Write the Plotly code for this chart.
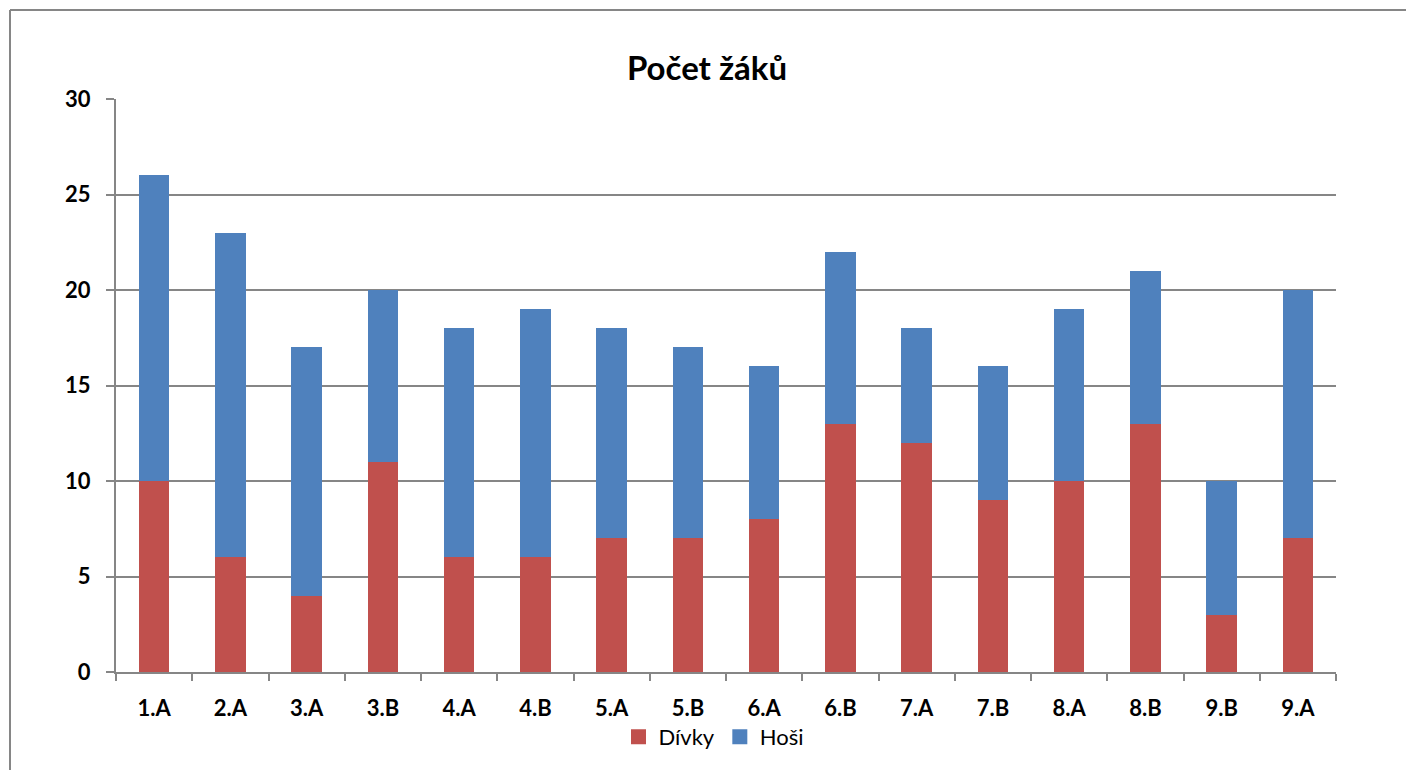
import plotly.graph_objects as go

categories = ["1.A", "2.A", "3.A", "3.B", "4.A", "4.B", "5.A", "5.B", "6.A", "6.B", "7.A", "7.B", "8.A", "8.B", "9.B", "9.A"]
divky = [10, 6, 4, 11, 6, 6, 7, 7, 8, 13, 12, 9, 10, 13, 3, 7]
hosi = [16, 17, 13, 9, 12, 13, 11, 10, 8, 9, 6, 7, 9, 8, 7, 13]

FONT = "Lato, 'Open Sans', sans-serif"
GRAY = "#868686"
RED = "#C0504D"
BLUE = "#4F81BD"

W, H = 1406, 770
L, T = 116, 99
R = W - 1336
B = H - 672
pw, ph = W - L - R, H - T - B


def px_x(p):
    return (p - L) / pw


def px_y(p):
    return (H - B - p) / ph


fig = go.Figure()
fig.add_trace(go.Bar(x=categories, y=divky, name="Dívky", showlegend=False,
                     marker=dict(color=RED, line=dict(width=0))))
fig.add_trace(go.Bar(x=categories, y=hosi, name="Hoši", showlegend=False,
                     marker=dict(color=BLUE, line=dict(width=0))))
# legend entries with square swatches
fig.add_trace(go.Scatter(x=[None], y=[None], mode="markers", name="Dívky",
                         marker=dict(symbol="square", size=15, color=RED)))
fig.add_trace(go.Scatter(x=[None], y=[None], mode="markers", name="Hoši",
                         marker=dict(symbol="square", size=15, color=BLUE)))

# chart frame (left and top edges visible)
fig.add_shape(type="line", xref="paper", yref="paper",
              x0=px_x(10), x1=px_x(10), y0=px_y(10), y1=px_y(800),
              line=dict(color=GRAY, width=2))
fig.add_shape(type="line", xref="paper", yref="paper",
              x0=px_x(10), x1=px_x(1430), y0=px_y(10), y1=px_y(10),
              line=dict(color=GRAY, width=2))

fig.update_layout(
    width=W, height=H,
    barmode="stack", bargap=0.6,
    paper_bgcolor="white", plot_bgcolor="white",
    margin=dict(l=L, r=R, t=T, b=B, autoexpand=False),
    font=dict(family=FONT, color="black"),
    title=dict(text="<b>Počet žáků</b>", x=707 / W, xanchor="center",
               y=1 - 68 / H, yanchor="middle",
               font=dict(size=33, family=FONT, color="black")),
    legend=dict(orientation="h", x=px_x(714), xanchor="center", y=px_y(737), yanchor="middle",
                font=dict(size=22, family=FONT), itemwidth=30, traceorder="normal",
                bgcolor="rgba(0,0,0,0)"),
    xaxis=dict(showgrid=False, showline=True, linecolor=GRAY, linewidth=2,
               ticks="outside", tickson="boundaries", ticklen=7, tickcolor=GRAY, tickwidth=2,
               tickfont=dict(size=22, family=FONT, color="black"), ticklabelstandoff=16,
               tickprefix="<b>", ticksuffix="</b>"),
    yaxis=dict(range=[0, 30], dtick=5, showgrid=True, gridcolor=GRAY, gridwidth=1.5,
               showline=True, linecolor=GRAY, linewidth=2, zeroline=False,
               ticks="outside", ticklen=8, tickcolor=GRAY, tickwidth=2,
               tickfont=dict(size=22, family=FONT, color="black"),
               tickprefix="<b>", ticksuffix="</b>", ticklabelstandoff=11),
)

fig.write_html(
    "out.html",
    config={"displayModeBar": False},
    post_script="document.body.style.margin='0';document.body.style.overflow='hidden';",
)
